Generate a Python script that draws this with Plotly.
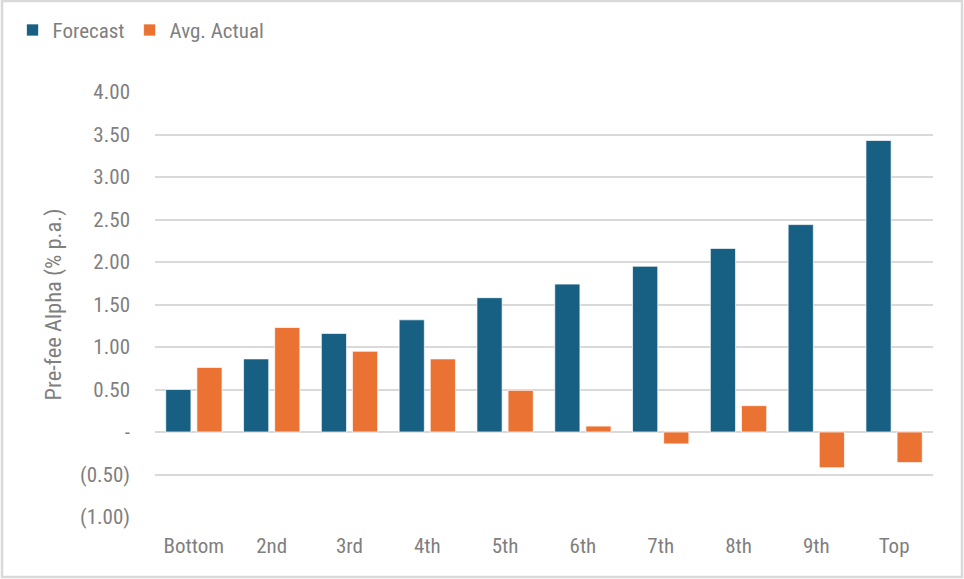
import plotly.graph_objects as go

# Decile buckets and pre-fee alpha (% p.a.)
categories = ["Bottom", "2nd", "3rd", "4th", "5th", "6th", "7th", "8th", "9th", "Top"]
forecast = [0.50, 0.86, 1.16, 1.32, 1.58, 1.74, 1.95, 2.16, 2.44, 3.43]
avg_actual = [0.76, 1.23, 0.95, 0.86, 0.49, 0.07, -0.14, 0.31, -0.42, -0.36]

y_tickvals = [-1.0, -0.5, 0.0, 0.5, 1.0, 1.5, 2.0, 2.5, 3.0, 3.5, 4.0]
y_ticktext = ["(1.00)", "(0.50)", "-", "0.50", "1.00", "1.50", "2.00", "2.50", "3.00", "3.50", "4.00"]

BLUE = "#176084"
ORANGE = "#EA7333"
GRID = "#d9d9d9"
TEXT = "#7f7f7f"
FONT = "Liberation Sans Narrow, Roboto Condensed, Arial Narrow, Roboto, sans-serif"

W, H = 964, 579
ML, MR, MT, MB = 155, 31, 92, 62

fig = go.Figure()
fig.add_trace(go.Bar(
    name="Forecast", x=categories, y=forecast,
    marker=dict(color=BLUE, line=dict(color="rgba(255,255,255,0.7)", width=1)),
))
fig.add_trace(go.Bar(
    name="Avg. Actual", x=categories, y=avg_actual,
    marker=dict(color=ORANGE, line=dict(color="rgba(255,255,255,0.7)", width=1)),
))

pw = W - ML - MR
ph = H - MT - MB
# outer frame around the whole chart
fig.add_shape(
    type="rect", xref="paper", yref="paper",
    x0=(2 - ML) / pw, x1=(W - 2 - ML) / pw,
    y0=-(MB - 2) / ph, y1=1 + (MT - 1) / ph,
    line=dict(color=GRID, width=2.5), fillcolor="rgba(0,0,0,0)", layer="above",
)

fig.update_layout(
    width=W, height=H,
    margin=dict(l=ML, r=MR, t=MT, b=MB),
    paper_bgcolor="white", plot_bgcolor="white",
    barmode="group", bargap=0.20, bargroupgap=0.19,
    font=dict(family=FONT, size=21, color=TEXT),
    showlegend=True,
    legend=dict(
        orientation="h", xref="container", yref="container",
        x=0.013, y=0.983, xanchor="left", yanchor="top",
        font=dict(family=FONT, size=21, color=TEXT),
        itemwidth=30, tracegroupgap=0,
    ),
    xaxis=dict(
        showgrid=False, zeroline=False, showline=False,
        ticks="", ticklabelstandoff=14,
        tickfont=dict(family=FONT, size=21, color=TEXT),
    ),
    yaxis=dict(
        range=[-1, 4], tickvals=y_tickvals, ticktext=y_ticktext,
        showgrid=True, gridcolor=GRID, gridwidth=2,
        zeroline=True, zerolinecolor=GRID, zerolinewidth=2,
        showline=False, ticks="", ticklabelstandoff=24,
        tickfont=dict(family=FONT, size=21, color=TEXT),
        title=dict(text="Pre-fee Alpha (% p.a.)", standoff=12,
                   font=dict(family=FONT, size=22.5, color=TEXT)),
    ),
)

fig.write_html("out.html")
